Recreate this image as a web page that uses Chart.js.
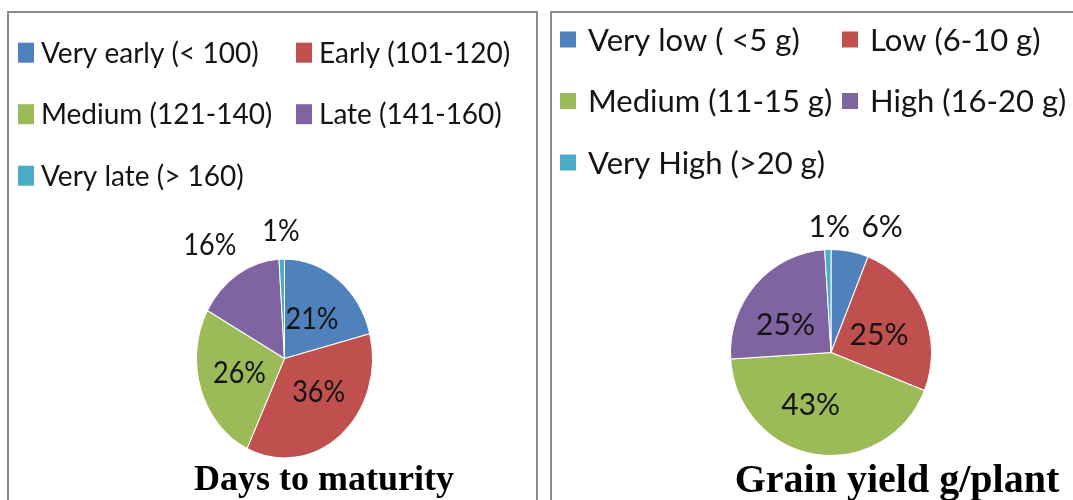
<!DOCTYPE html>
<html>
<head>
<meta charset="utf-8">
<script src="https://cdn.jsdelivr.net/npm/chart.js@4.4.1/dist/chart.umd.min.js"></script>
<style>
  html, body { margin: 0; padding: 0; background: #fff; width: 1073px; height: 500px; overflow: hidden; }
  .box { position: absolute; border: 2px solid #8a8a8a; border-bottom: none; box-sizing: border-box; }
  canvas { position: absolute; top: 0; }
</style>
</head>
<body>
<div class="box" style="left:7px; top:11px; width:531px; height:520px"></div>
<div class="box" style="left:550px; top:11px; width:560px; height:520px"></div>
<canvas id="maturity" width="545" height="500" style="left:0"></canvas>
<canvas id="yield" width="528" height="500" style="left:545px"></canvas>
<script>
// Days to maturity classes and their share of genotypes (%)
const maturityLabels = ['Very early (< 100)', 'Early (101-120)', 'Medium (121-140)', 'Late (141-160)', 'Very late (> 160)'];
const maturityValues = [21, 36, 26, 16, 1];
const maturityTitle = 'Days to maturity';

// Grain yield per plant classes and their share of genotypes (%)
const yieldLabels = ['Very low ( <5 g)', 'Low (6-10 g)', 'Medium (11-15 g)', 'High (16-20 g)', 'Very High (>20 g)'];
const yieldValues = [6, 25, 43, 25, 1];
const yieldTitle = 'Grain yield g/plant';

const sliceColors = ['#4F81BD', '#C0504D', '#9BBB59', '#8064A2', '#4BACC6'];

// Label placement: radius fraction and angular nudge (degrees) per slice
const maturityLabelPlace = [
  { f: 0.51, d: 0 }, { f: 0.51, d: -10 }, { f: 0.53, d: 3 }, { f: 1.43, d: -4 }, { f: 1.29, d: 0 }
];
const yieldLabelPlace = [
  { f: 1.33, d: 11.7 }, { f: 0.51, d: 3 }, { f: 0.54, d: 13 }, { f: 0.53, d: -10 }, { f: 1.23, d: 1 }
];

// Draws the pie slightly squashed/stretched vertically, with % labels
const ovalPie = {
  id: 'ovalPie',
  beforeDatasetsDraw(chart, args, o) {
    const arc = chart.getDatasetMeta(0).data[0];
    const ctx = chart.ctx;
    ctx.save();
    ctx.translate(arc.x, arc.y);
    ctx.scale(1, o.stretch);
    ctx.translate(-arc.x, -arc.y);
  },
  afterDatasetsDraw(chart, args, o) {
    const ctx = chart.ctx;
    const meta = chart.getDatasetMeta(0);
    const values = chart.data.datasets[0].data;
    const total = values.reduce((a, b) => a + b, 0);
    ctx.fillStyle = '#141414';
    ctx.font = o.labelSize + 'px Lato';
    ctx.textAlign = 'center';
    ctx.textBaseline = 'alphabetic';
    meta.data.forEach((arc, i) => {
      const p = o.place[i];
      const mid = (arc.startAngle + arc.endAngle) / 2 + p.d * Math.PI / 180;
      const r = arc.outerRadius * p.f;
      const x = arc.x + Math.cos(mid) * r;
      const y = arc.y + Math.sin(mid) * r;
      ctx.fillText(Math.round(values[i] / total * 100) + '%', x, y + o.labelSize * 0.36);
    });
    ctx.restore();
  }
};

// Two-column legend (items flow right when a label is wider than its column) and bottom title
const panelText = {
  id: 'panelText',
  afterDraw(chart, args, o) {
    const ctx = chart.ctx;
    const labels = chart.data.labels;
    const colors = chart.data.datasets[0].backgroundColor;
    ctx.save();
    ctx.font = o.legendSize + 'px Lato';
    ctx.textAlign = 'left';
    ctx.textBaseline = 'alphabetic';
    for (let row = 0; row * 2 < labels.length; row++) {
      const cy = o.rowTop + row * o.rowStep;
      let x = o.colX[0];
      for (let c = 0; c < 2; c++) {
        const i = row * 2 + c;
        if (i >= labels.length) break;
        if (c > 0) x = Math.max(o.colX[c], x);
        ctx.fillStyle = colors[i];
        ctx.fillRect(x, cy - o.keyH / 2, o.keyW, o.keyH);
        ctx.fillStyle = '#141414';
        const tx = x + o.keyGap;
        ctx.fillText(labels[i], tx, cy + o.legendSize * 0.36);
        x = tx + ctx.measureText(labels[i]).width + 4;
      }
    }
    ctx.font = 'bold ' + o.titleSize + 'px "Liberation Serif", "Times New Roman", serif';
    ctx.textAlign = 'center';
    ctx.fillStyle = '#000';
    ctx.fillText(o.title, o.titleX, o.titleY);
    ctx.restore();
  }
};

function makePie(id, labels, values, pad, oval, text) {
  return new Chart(document.getElementById(id), {
    type: 'pie',
    data: {
      labels: labels,
      datasets: [{
        data: values,
        backgroundColor: sliceColors,
        borderColor: '#ffffff',
        borderWidth: 1
      }]
    },
    options: {
      responsive: false,
      animation: false,
      devicePixelRatio: 1,
      layout: { padding: pad },
      plugins: {
        legend: { display: false },
        tooltip: { enabled: false },
        ovalPie: oval,
        panelText: text
      }
    },
    plugins: [ovalPie, panelText]
  });
}

makePie('maturity', maturityLabels, maturityValues,
  { left: 196, right: 172, top: 270, bottom: 53 },
  { stretch: 1.13, labelSize: 27, place: maturityLabelPlace },
  { legendSize: 28, rowTop: 52.7, rowStep: 61.5, colX: [18, 296], keyW: 16, keyH: 20, keyGap: 23,
    title: maturityTitle, titleSize: 36, titleX: 324, titleY: 490 });

makePie('yield', yieldLabels, yieldValues,
  { left: 185, right: 141, top: 251.5, bottom: 46.5 },
  { stretch: 1.025, labelSize: 30, place: yieldLabelPlace },
  { legendSize: 31, rowTop: 39.5, rowStep: 61.5, colX: [15, 297], keyW: 16, keyH: 16, keyGap: 28,
    title: yieldTitle, titleSize: 40, titleX: 352, titleY: 491.5 });
</script>
</body>
</html>
